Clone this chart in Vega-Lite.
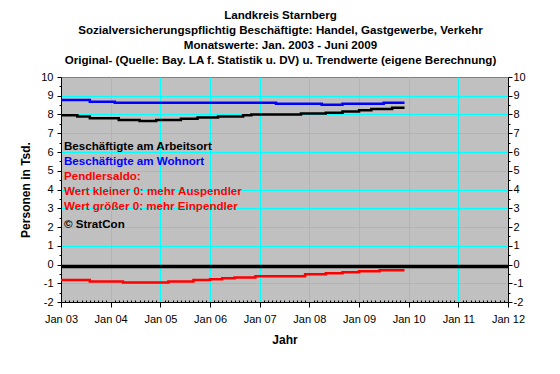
{
  "$schema": "https://vega.github.io/schema/vega-lite/v6.json",
  "width": 447,
  "height": 225,
  "autosize": "none",
  "padding": {"left": 61, "top": 77, "right": 52, "bottom": 72},
  "background": "white",
  "title": {
    "text": ["Landkreis Starnberg", "Sozialversicherungspflichtig Beschäftigte: Handel, Gastgewerbe, Verkehr", "Monatswerte: Jan. 2003 - Juni 2009", "Original- (Quelle: Bay. LA f. Statistik u. DV) u. Trendwerte (eigene Berechnung)"],
    "font": "Liberation Sans",
    "fontSize": 11.6,
    "fontWeight": "bold",
    "lineHeight": 15,
    "anchor": "middle",
    "dx": -4,
    "offset": 4.5,
    "color": "black"
  },
  "config": {
    "font": "Liberation Sans",
    "view": {"fill": "#C0C0C0", "stroke": "#808080", "strokeWidth": 1}
  },
  "datasets": {
    "series": [
      {"date": "2003-01", "series": "Arbeitsort", "value": 7.96},
      {"date": "2003-05", "series": "Arbeitsort", "value": 7.89},
      {"date": "2003-08", "series": "Arbeitsort", "value": 7.80},
      {"date": "2004-03", "series": "Arbeitsort", "value": 7.71},
      {"date": "2004-08", "series": "Arbeitsort", "value": 7.66},
      {"date": "2004-12", "series": "Arbeitsort", "value": 7.71},
      {"date": "2005-06", "series": "Arbeitsort", "value": 7.77},
      {"date": "2005-10", "series": "Arbeitsort", "value": 7.84},
      {"date": "2006-03", "series": "Arbeitsort", "value": 7.89},
      {"date": "2006-09", "series": "Arbeitsort", "value": 7.96},
      {"date": "2006-11", "series": "Arbeitsort", "value": 8.00},
      {"date": "2007-11", "series": "Arbeitsort", "value": 8.05},
      {"date": "2008-05", "series": "Arbeitsort", "value": 8.10},
      {"date": "2008-09", "series": "Arbeitsort", "value": 8.16},
      {"date": "2009-01", "series": "Arbeitsort", "value": 8.23},
      {"date": "2009-04", "series": "Arbeitsort", "value": 8.30},
      {"date": "2009-09", "series": "Arbeitsort", "value": 8.36},
      {"date": "2009-12", "series": "Arbeitsort", "value": 8.36},
      {"date": "2003-01", "series": "Wohnort", "value": 8.78},
      {"date": "2003-08", "series": "Wohnort", "value": 8.68},
      {"date": "2004-02", "series": "Wohnort", "value": 8.63},
      {"date": "2007-05", "series": "Wohnort", "value": 8.57},
      {"date": "2008-04", "series": "Wohnort", "value": 8.52},
      {"date": "2008-09", "series": "Wohnort", "value": 8.58},
      {"date": "2009-07", "series": "Wohnort", "value": 8.63},
      {"date": "2009-12", "series": "Wohnort", "value": 8.63},
      {"date": "2003-01", "series": "Pendlersaldo", "value": -0.83},
      {"date": "2003-08", "series": "Pendlersaldo", "value": -0.90},
      {"date": "2004-04", "series": "Pendlersaldo", "value": -0.96},
      {"date": "2005-03", "series": "Pendlersaldo", "value": -0.90},
      {"date": "2005-09", "series": "Pendlersaldo", "value": -0.83},
      {"date": "2006-01", "series": "Pendlersaldo", "value": -0.78},
      {"date": "2006-04", "series": "Pendlersaldo", "value": -0.73},
      {"date": "2006-07", "series": "Pendlersaldo", "value": -0.69},
      {"date": "2006-12", "series": "Pendlersaldo", "value": -0.63},
      {"date": "2007-12", "series": "Pendlersaldo", "value": -0.52},
      {"date": "2008-05", "series": "Pendlersaldo", "value": -0.46},
      {"date": "2008-09", "series": "Pendlersaldo", "value": -0.41},
      {"date": "2009-01", "series": "Pendlersaldo", "value": -0.36},
      {"date": "2009-06", "series": "Pendlersaldo", "value": -0.31},
      {"date": "2009-12", "series": "Pendlersaldo", "value": -0.31}
    ],
    "zero": [
      {"date": "2003-01", "value": -0.1},
      {"date": "2012-01", "value": -0.1}
    ],
    "notes": [
      {"date": "2003-01", "line": 1, "pos": 6.25, "label": "Beschäftigte am Arbeitsort"},
      {"date": "2003-01", "line": 2, "pos": 5.45, "label": "Beschäftigte am Wohnort"},
      {"date": "2003-01", "line": 3, "pos": 4.65, "label": "Pendlersaldo:"},
      {"date": "2003-01", "line": 4, "pos": 3.88, "label": "Wert kleiner 0: mehr Auspendler"},
      {"date": "2003-01", "line": 5, "pos": 3.08, "label": "Wert größer 0: mehr Einpendler"},
      {"date": "2003-01", "line": 6, "pos": 2.13, "label": "© StratCon"}
    ]
  },
  "layer": [
    {
      "data": {"name": "series", "format": {"parse": {"date": "utc:'%Y-%m'"}}},
      "mark": {"type": "line", "interpolate": "step-after", "strokeWidth": 2.5},
      "encoding": {
        "x": {
          "field": "date", "type": "temporal",
          "scale": {"type": "utc", "domain": [{"year": 2003, "month": 1, "date": 1, "utc": true}, {"year": 2012, "month": 1, "date": 1, "utc": true}]},
          "axis": {
            "title": "Jahr",
            "titleFontSize": 12, "titleFontWeight": "bold", "titleColor": "black", "titlePadding": 10,
            "tickCount": {"interval": "month", "step": 1},
            "labelExpr": "utcmonth(datum.value) == 0 ? 'Jan ' + utcFormat(datum.value, '%y') : ''",
            "labelOverlap": false, "labelFlush": false,
            "labelFontSize": 11, "labelColor": "black", "labelPadding": 6,
            "grid": true,
            "gridColor": {"condition": {"test": "utcmonth(datum.value) == 0", "value": "#00FFFF"}, "value": "transparent"},
            "gridWidth": 1,
            "tickSize": {"condition": {"test": "utcmonth(datum.value) == 0", "value": 5}, "value": -2},
            "tickColor": "black", "domainColor": "black"
          }
        },
        "y": {
          "field": "value", "type": "quantitative",
          "scale": {"domain": [-2, 10], "nice": false, "zero": false},
          "axis": {
            "orient": "left",
            "title": "Personen in Tsd.",
            "titleFontSize": 12, "titleFontWeight": "bold", "titleColor": "black", "titlePadding": 8,
            "values": [-2, -1.5, -1, -0.5, 0, 0.5, 1, 1.5, 2, 2.5, 3, 3.5, 4, 4.5, 5, 5.5, 6, 6.5, 7, 7.5, 8, 8.5, 9, 9.5, 10],
            "labelExpr": "datum.value % 1 == 0 ? '' + datum.value : ''",
            "labelFontSize": 11, "labelColor": "black", "labelPadding": 4,
            "grid": true,
            "gridColor": {"condition": {"test": "datum.value % 1 == 0 && datum.value < 10 && datum.value > -2", "value": "#00FFFF"}, "value": "transparent"},
            "tickSize": {"condition": {"test": "datum.value % 1 == 0", "value": 4}, "value": 2},
            "tickColor": "black", "domainColor": "black"
          }
        },
        "color": {
          "field": "series", "type": "nominal",
          "scale": {"domain": ["Arbeitsort", "Wohnort", "Pendlersaldo"], "range": ["#000000", "#0000FF", "#FF0000"]},
          "legend": null
        }
      }
    },
    {
      "data": {"name": "notes", "format": {"parse": {"date": "utc:'%Y-%m'"}}},
      "mark": {"type": "text", "align": "left", "baseline": "middle", "dx": 3, "fontSize": 11.6, "fontWeight": "bold"},
      "encoding": {
        "x": {
          "field": "date", "type": "temporal",
          "axis": {
            "title": "Jahr",
            "titleFontSize": 12, "titleFontWeight": "bold", "titleColor": "black", "titlePadding": 10,
            "tickCount": {"interval": "month", "step": 1},
            "labelExpr": "utcmonth(datum.value) == 0 ? 'Jan ' + utcFormat(datum.value, '%y') : ''",
            "labelOverlap": false, "labelFlush": false,
            "labelFontSize": 11, "labelColor": "black", "labelPadding": 6,
            "grid": true,
            "gridColor": {"condition": {"test": "utcmonth(datum.value) == 0", "value": "#00FFFF"}, "value": "transparent"},
            "gridWidth": 1,
            "tickSize": {"condition": {"test": "utcmonth(datum.value) == 0", "value": 5}, "value": -2},
            "tickColor": "black", "domainColor": "black"
          }
        },
        "y": {"field": "pos", "type": "quantitative", "scale": {"domain": [-2, 10], "nice": false, "zero": false}, "axis": null},
        "text": {"field": "label"},
        "color": {
          "field": "line", "type": "nominal",
          "scale": {"domain": [1, 2, 3, 4, 5, 6], "range": ["#000000", "#0000FF", "#FF0000", "#FF0000", "#FF0000", "#000000"]},
          "legend": null
        }
      }
    },
    {
      "data": {"name": "zero", "format": {"parse": {"date": "utc:'%Y-%m'"}}},
      "mark": {"type": "line", "color": "#000000", "strokeWidth": 3.5},
      "encoding": {
        "x": {"field": "date", "type": "temporal"},
        "y": {
          "field": "value", "type": "quantitative",
          "scale": {"domain": [-2, 10], "nice": false, "zero": false},
          "axis": {
            "orient": "right",
            "title": null,
            "values": [-2, -1.5, -1, -0.5, 0, 0.5, 1, 1.5, 2, 2.5, 3, 3.5, 4, 4.5, 5, 5.5, 6, 6.5, 7, 7.5, 8, 8.5, 9, 9.5, 10],
            "labelExpr": "datum.value % 1 == 0 ? '' + datum.value : ''",
            "labelFontSize": 11, "labelColor": "black", "labelPadding": 1,
            "grid": false,
            "tickSize": {"condition": {"test": "datum.value % 1 == 0", "value": 4}, "value": 2},
            "tickColor": "black", "domainColor": "black"
          }
        }
      }
    }
  ],
  "resolve": {"scale": {"y": "independent", "color": "independent"}, "axis": {"y": "independent"}}
}
